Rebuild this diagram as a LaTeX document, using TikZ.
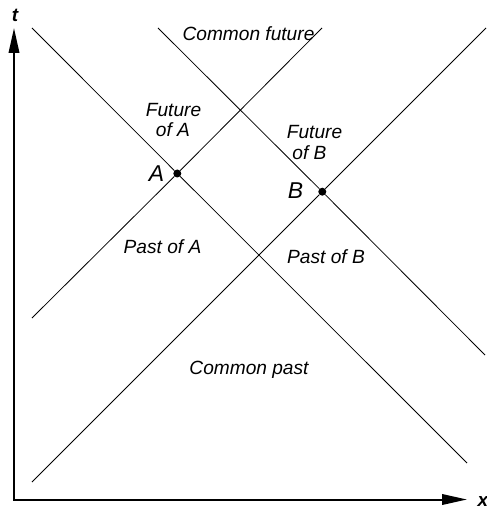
\documentclass[tikz,border=0pt]{standalone}
\usepackage{fontspec}
\setmainfont{Liberation Sans}
\usetikzlibrary{arrows.meta}
\begin{document}
\begin{tikzpicture}[x=1bp,y=-1bp,
  cone/.style={line width=0.8bp},
  axis/.style={line width=2bp,-{Triangle[length=25bp,width=10.5bp]}},
  region/.style={font=\fontsize{19.2}{21}\selectfont\itshape, inner sep=0pt, align=center},
  event/.style={font=\fontsize{23}{24}\selectfont\itshape, inner sep=0pt},
  axlabel/.style={font=\fontsize{19}{20}\selectfont\bfseries\itshape, inner sep=0pt},
  dot/.style={circle, fill=black, inner sep=0pt, minimum size=8bp}]
\useasboundingbox (0,0) rectangle (487,511);

% axes
\coordinate (O) at (14,499.5);
\coordinate (T) at (14,28);
\coordinate (X) at (467,499.5);
\draw[axis] ([yshift=-1bp]O) -- (T);
\draw[axis] ([xshift=-1bp]O) -- (X);
\node[axlabel] (tl) at (15,15) {t};
\node[axlabel] (xl) at (483,501) {x};

% events
\node[dot] (A) at (177.3,173.5) {};
\node[dot] (B) at (322.3,191.7) {};

% light-cone boundaries
\coordinate (a1) at (32,28);   \coordinate (a2) at (467,463);
\coordinate (a3) at (32,318);  \coordinate (a4) at (322,28);
\coordinate (b1) at (158,28);  \coordinate (b2) at (485,355);
\coordinate (b3) at (32,482);  \coordinate (b4) at (486,28);
\draw[cone] (a1) -- (A) -- (a2);
\draw[cone] (a3) -- (A) -- (a4);
\draw[cone] (b1) -- (B) -- (b2);
\draw[cone] (b3) -- (B) -- (b4);

% labels
\node[event] (Al) at (156.5,174) {A};
\node[event] (Bl) at (295.5,191) {B};
\node[region] (cf) at (248.5,33.5) {Common future};
\node[region] (fa1) at (173.5,110) {Future};
\node[region] (fa2) at (173,130) {of A};
\node[region] (fb1) at (314.5,132) {Future};
\node[region] (fb2) at (309.5,152.5) {of B};
\node[region] (pa) at (162.5,246.5) {Past of A};
\node[region] (pb) at (326,257) {Past of B};
\node[region] (cp) at (249,369.5) {Common past};
\end{tikzpicture}
\end{document}
